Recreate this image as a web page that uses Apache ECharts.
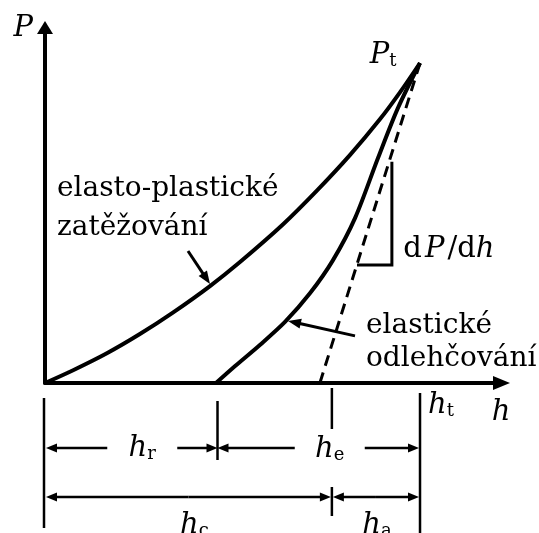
<!DOCTYPE html>
<html>
<head>
<meta charset="utf-8">
<script src="https://cdn.jsdelivr.net/npm/echarts@6/dist/echarts.min.js"></script>
<style>
  html, body { margin: 0; padding: 0; background: #fff; }
  #chart { width: 539px; height: 533px; }
</style>
</head>
<body>
<div id="chart"></div>
<script>
// Indentation depth h against load P, peak load and total depth normalised to 100
const loadH = [0, 7.5, 16.5, 25.3, 34.1, 44.0, 52.0, 63.5, 72.5, 81.3, 89.3, 94.7, 100];
const loadP = [0, 4.0, 9.3, 15.3, 22.0, 30.3, 37.8, 49.6, 60.1, 71.2, 82.4, 90.9, 100];

const unloadH = [45.6, 50.7, 57.3, 64.0, 70.7, 76.8, 82.7, 88.8, 94.1, 100];
const unloadP = [0, 5.3, 11.9, 19.1, 28.1, 38.4, 51.6, 70.3, 85.9, 100];

// tangent to the unloading branch at peak load (contact stiffness dP/dh)
const tangentH = [73.3, 100];
const tangentP = [0, 100];

// slope triangle drawn against the tangent
const slopeH = [83.2, 92.5, 92.5];
const slopeP = [36.9, 36.9, 69.1];

// characteristic depths: residual, contact, total
const depthNames = ['r', 'c', 't'];
const depthValues = [46, 76.5, 100];
const peakLoad = 100;

const loadingLabel = 'elasto-plastické\nzatěžování';
const unloadingLabel = 'elastické\nodlehčování';

const pairs = (xs, ys) => xs.map((x, i) => [x, ys[i]]);
const hr = depthValues[0], hc = depthValues[1], ht = depthValues[2];

const SERIF = 'DejaVu Serif';
const INK = '#000';
const rich = {
  v: { fontFamily: SERIF, fontStyle: 'italic', fontSize: 29, lineHeight: 30, fill: INK },
  s: { fontFamily: SERIF, fontSize: 18, lineHeight: 18, verticalAlign: 'bottom', fill: INK },
  u: { fontFamily: SERIF, fontSize: 29, lineHeight: 30, fill: INK },
  g: { fontFamily: SERIF, fontSize: 29, lineHeight: 30, width: 3 }
};
const sym = (sub) => '{v|h}{s|' + sub + '}';

function renderNotes(params, api) {
  const kids = [];
  const at = (h, p) => api.coord([h, p]);
  const shift = (pt, dx, dy) => [pt[0] + dx, pt[1] + dy];

  const seg = (a, b, w) => kids.push({
    type: 'line', silent: true,
    shape: { x1: a[0], y1: a[1], x2: b[0], y2: b[1] },
    style: { stroke: INK, lineWidth: w, lineCap: 'butt' }
  });
  const arrow = (from, tip, w, len, wid) => {
    const dx = tip[0] - from[0], dy = tip[1] - from[1];
    const d = Math.hypot(dx, dy), ux = dx / d, uy = dy / d;
    const base = [tip[0] - ux * len, tip[1] - uy * len];
    seg(from, shift(base, ux, uy), w);
    kids.push({
      type: 'polygon', silent: true,
      shape: { points: [tip, [base[0] - uy * wid / 2, base[1] + ux * wid / 2], [base[0] + uy * wid / 2, base[1] - ux * wid / 2]] },
      style: { fill: INK }
    });
  };
  const text = (pt, str, extra) => kids.push({
    type: 'text', silent: true, x: pt[0], y: pt[1],
    style: Object.assign({ text: str, rich: rich, fill: INK, align: 'center', verticalAlign: 'middle' }, extra || {})
  });

  // extension lines under the depth axis
  const o = at(0, 0), r = at(hr, 0), c = at(hc, 0), t = at(ht, 0);
  seg(shift(o, -1, 15), shift(o, -1, 145), 2.5);
  seg(shift(r, 0, 18), shift(r, 0, 77), 2.5);
  seg(shift(c, 0, 5), shift(c, 0, 46), 2.5);
  seg(shift(c, 0, 104), shift(c, 0, 133), 2.5);
  seg(shift(t, 0, 10), shift(t, 0, 152), 2.5);

  // first row: h_r and h_e
  const row1 = 65, gap = 35, AL = 11, AW = 9, LW = 2.5;
  const rMid = (o[0] + r[0]) / 2 + 11, eMid = (r[0] + t[0]) / 2 + 11;
  arrow([rMid - gap, o[1] + row1], [o[0] + 1, o[1] + row1], LW, AL, AW);
  arrow([rMid + gap, o[1] + row1], [r[0], o[1] + row1], LW, AL, AW);
  arrow([eMid - gap, o[1] + row1], [r[0], o[1] + row1], LW, AL, AW);
  arrow([eMid + gap, o[1] + row1], [t[0] - 1, o[1] + row1], LW, AL, AW);
  text([rMid, o[1] + row1], sym(depthNames[0]));
  text([eMid, o[1] + row1 + 1], sym('e'));

  // second row: h_c and h_a
  const row2 = 114;
  const cMid = (o[0] + c[0]) / 2, aMid = (c[0] + t[0]) / 2;
  arrow([cMid, o[1] + row2], [o[0] + 1, o[1] + row2], LW, AL, AW);
  arrow([cMid, o[1] + row2], [c[0] - 1, o[1] + row2], LW, AL, AW);
  arrow([aMid, o[1] + row2], [c[0] + 1, o[1] + row2], LW, AL, AW);
  arrow([aMid, o[1] + row2], [t[0] - 1, o[1] + row2], LW, AL, AW);
  text([cMid + 6, o[1] + 142], sym(depthNames[1]));
  text([aMid + 1, o[1] + 142], sym('a'));

  // total depth, depth axis title and peak load
  text(shift(t, 21, 22), sym(depthNames[2]));
  text(shift(t, 81, 29), '{v|h}');
  text(shift(at(ht, peakLoad), -37, -8), '{v|P}{s|t}');

  // stiffness label beside the slope triangle
  text(shift(at(slopeH[1], slopeP[1]), 57, -15), '{u|d}{g|}{v|P}{g|}{u|/d}{v|h}');

  // pointers to the two branches
  const lp = at(loadH[5], loadP[5]);
  arrow(shift(lp, -22, -35), shift(lp, 0, -2), 3, 13, 10);
  const up = at(unloadH[3], unloadP[3]);
  arrow(shift(up, 70, 14), shift(up, 3, -1), 3, 13, 10);

  const txt = { fontFamily: SERIF, fontSize: 28, align: 'left', rich: null };
  text(at(3.2, 54.7), loadingLabel, Object.assign({ lineHeight: 39 }, txt));
  text(at(85.6, 12.6), unloadingLabel, Object.assign({ lineHeight: 33 }, txt));

  return { type: 'group', children: kids };
}

const chart = echarts.init(document.getElementById('chart'), null, { renderer: 'canvas' });
chart.setOption({
  animation: false,
  backgroundColor: '#fff',
  grid: { left: 45, right: 37.5, top: 27.5, bottom: 150, outerBoundsMode: 'none', containLabel: false },
  xAxis: {
    type: 'value', min: 0, max: 121.73,
    axisLine: { show: true, onZero: false, symbol: ['none', 'triangle'], symbolSize: [14, 17], lineStyle: { color: INK, width: 4 } },
    axisTick: { show: false }, axisLabel: { show: false }, splitLine: { show: false }
  },
  yAxis: {
    type: 'value', min: 0, max: 111.09,
    name: 'P', nameLocation: 'end', nameGap: -1,
    nameTextStyle: { fontFamily: SERIF, fontStyle: 'italic', fontSize: 29, color: INK, align: 'right', verticalAlign: 'middle', padding: [0, 12, 0, 0] },
    axisLine: { show: true, onZero: false, symbol: ['none', 'triangle'], symbolSize: [16, 13], lineStyle: { color: INK, width: 4 } },
    axisTick: { show: false }, axisLabel: { show: false }, splitLine: { show: false }
  },
  series: [
    {
      name: 'zatěžování', type: 'line', data: pairs(loadH, loadP), smooth: 0.3,
      showSymbol: false, silent: true, lineStyle: { color: INK, width: 4 }
    },
    {
      name: 'odlehčování', type: 'line', data: pairs(unloadH, unloadP), smooth: 0.3,
      showSymbol: false, silent: true, lineStyle: { color: INK, width: 4 }
    },
    {
      name: 'tečna', type: 'line', data: pairs(tangentH, tangentP),
      showSymbol: false, silent: true, lineStyle: { color: INK, width: 3, type: [11, 7] }
    },
    {
      name: 'dP/dh', type: 'line', data: pairs(slopeH, slopeP),
      showSymbol: false, silent: true, lineStyle: { color: INK, width: 3, join: 'miter' }
    },
    {
      name: 'popisky', type: 'custom', data: [[0, 0]], clip: false, silent: true,
      renderItem: renderNotes
    }
  ]
});
</script>
</body>
</html>
